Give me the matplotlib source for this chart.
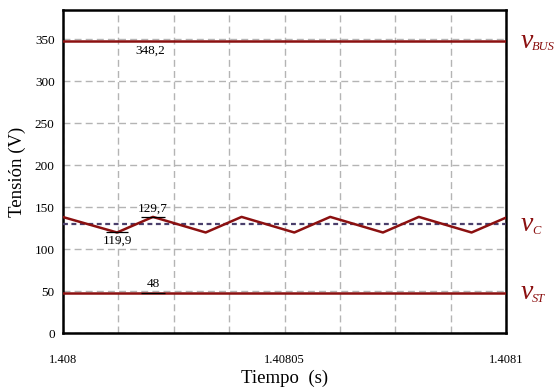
import numpy as np
import matplotlib.pyplot as plt
from matplotlib.ticker import FixedLocator
from matplotlib.transforms import offset_copy

plt.rcParams['font.family'] = ['Liberation Serif', 'DejaVu Serif']

# data (time offset from 1.408 s, in units of 1e-5 s)
t_vc = [0.0, 1.22, 2.03, 3.22, 4.03, 5.22, 6.03, 7.22, 8.03, 9.22, 10.0]
vc = [138.3, 119.9, 138.5, 119.9, 138.5, 119.9, 138.5, 119.9, 138.5, 119.9, 137.7]
vc_mean = 129.7
v_bus = 348.2
v_st = 48.0
t_start = 1.408
t_end = 1.4081
x_tick_labels = ['1.408', '', '', '', '1.40805', '', '', '', '1.4081']
y_ticks = [0, 50, 100, 150, 200, 250, 300, 350]
right_labels = [('BUS', v_bus), ('C', vc_mean), ('ST', v_st)]

red = '#8b1010'
purple = '#4a3f6b'

fig = plt.figure(figsize=(5.56, 3.9), dpi=100)
ax = fig.add_axes([0.1133, 0.146, 0.797, 0.828])

t = t_start + np.array(t_vc) * 1e-5
ax.plot([t_start, t_end], [vc_mean, vc_mean], color=purple, lw=1.6,
        linestyle=(0, (2.2, 1.6)), zorder=3)
ax.plot(t, vc, color=red, lw=1.8, zorder=4)
ax.plot([t_start, t_end], [v_bus, v_bus], color=red, lw=1.8, zorder=4)
ax.plot([t_start, t_end], [v_st, v_st], color=red, lw=1.8, zorder=4)

# value markers
peak_t = t[2]
min_t = t[1]
ax.hlines(vc[2], peak_t - 0.27e-5, peak_t + 0.27e-5, color='black', lw=0.9, zorder=5)
ax.hlines(vc[1], min_t - 0.24e-5, min_t + 0.24e-5, color='black', lw=0.9, zorder=5)
ax.hlines(v_st, peak_t - 0.27e-5, peak_t + 0.27e-5, color='black', lw=0.9, zorder=5)
ax.text(peak_t, vc[2] + 2, '129,7', ha='center', va='bottom', fontsize=9.5)
ax.text(min_t, vc[1] - 3, '119,9', ha='center', va='top', fontsize=9.5)
ax.text(peak_t, v_st + 3, '48', ha='center', va='bottom', fontsize=9.5)
ax.text(t[2] - 0.05e-5, v_bus - 4, '348,2', ha='center', va='top', fontsize=9.5)

ax.set_xlim(t_start, t_end)
ax.set_ylim(0, 385)
ax.xaxis.set_major_locator(FixedLocator(np.linspace(t_start, t_end, 9)))
ax.set_xticklabels(x_tick_labels)
ax.set_yticks(y_ticks)
ax.tick_params(axis='x', length=0, pad=15, labelsize=9)
ax.tick_params(axis='y', length=0, pad=6, labelsize=9.5)
ax.grid(True, color='#b4b4b4', linestyle=(0, (5, 3)), lw=1.0)
for s in ax.spines.values():
    s.set_linewidth(1.8)

ax.set_xlabel('Tiempo  (s)', fontsize=13.5, labelpad=3)
ax.set_ylabel('Tensión (V)', fontsize=13.5, labelpad=6)

# right-hand signal names: italic v with a smaller subscript
ytr = ax.get_yaxis_transform()
sub_tr = offset_copy(ytr, fig=fig, x=0, y=-4.5, units='points')
for sub, val in right_labels:
    ax.text(1.032, val, 'v', transform=ytr, color=red, fontsize=20,
            style='italic', va='center', ha='left')
    ax.text(1.058, val, sub, transform=sub_tr, color=red, fontsize=9,
            style='italic', va='center', ha='left')

fig.savefig('out.png', dpi=100)
